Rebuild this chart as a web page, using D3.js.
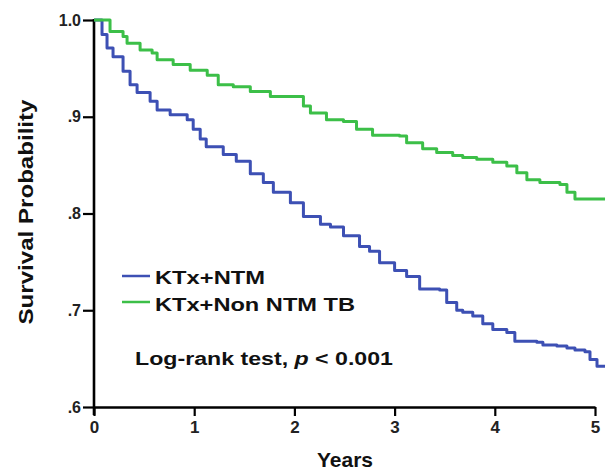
<!DOCTYPE html>
<html>
<head>
<meta charset="utf-8">
<script src="https://cdn.jsdelivr.net/npm/d3@7"></script>
<style>
  body { margin: 0; background: #fff; }
  text { font-family: "Liberation Sans", Arial, sans-serif; }
</style>
</head>
<body>
<svg id="chart"></svg>
<script>
// Kaplan-Meier steps (years, survival)
const ntmYears = [0, 0.08, 0.13, 0.19, 0.29, 0.36, 0.43, 0.56, 0.63, 0.76, 0.93, 0.99, 1.06, 1.12, 1.29, 1.42, 1.56, 1.69, 1.79, 1.96, 2.09, 2.26, 2.36, 2.49, 2.65, 2.75, 2.85, 3.0, 3.12, 3.25, 3.45, 3.52, 3.62, 3.68, 3.78, 3.88, 3.98, 4.12, 4.2, 4.42, 4.48, 4.62, 4.72, 4.8, 4.9, 4.95, 5.02, 5.1];
const ntmSurv = [1.0, 0.985, 0.971, 0.962, 0.947, 0.933, 0.925, 0.916, 0.907, 0.902, 0.897, 0.887, 0.877, 0.869, 0.861, 0.854, 0.841, 0.832, 0.822, 0.811, 0.797, 0.789, 0.786, 0.777, 0.766, 0.761, 0.749, 0.741, 0.735, 0.722, 0.721, 0.708, 0.7, 0.698, 0.694, 0.686, 0.68, 0.677, 0.668, 0.667, 0.664, 0.663, 0.661, 0.659, 0.657, 0.649, 0.642, 0.642];

const tbYears = [0, 0.16, 0.29, 0.33, 0.46, 0.58, 0.63, 0.79, 0.96, 1.13, 1.24, 1.39, 1.56, 1.76, 1.96, 2.09, 2.16, 2.32, 2.49, 2.62, 2.78, 3.05, 3.12, 3.28, 3.42, 3.58, 3.68, 3.82, 3.98, 4.12, 4.22, 4.32, 4.45, 4.65, 4.72, 4.8, 5.1];
const tbSurv = [1.0, 0.988, 0.983, 0.976, 0.969, 0.966, 0.959, 0.954, 0.948, 0.943, 0.933, 0.931, 0.926, 0.921, 0.921, 0.911, 0.904, 0.897, 0.895, 0.887, 0.881, 0.88, 0.873, 0.867, 0.863, 0.86, 0.858, 0.856, 0.853, 0.849, 0.842, 0.835, 0.832, 0.83, 0.822, 0.815, 0.815];

const xTicks = [0, 1, 2, 3, 4, 5];
const yTicks = [0.6, 0.7, 0.8, 0.9, 1.0];
const seriesNames = ["KTx+NTM", "KTx+Non NTM TB"];
const seriesColors = ["#3d50b4", "#3cbf48"];

const width = 612;
const height = 473;
const svg = d3.select("#chart").attr("width", width).attr("height", height);

const xScale = d3.scaleLinear().domain([0, 5]).range([94, 595]);
const yScale = d3.scaleLinear().domain([0.6, 1.0]).range([407, 20]);

// Axes
const yAxis = svg.append("g")
  .attr("transform", "translate(94,0)")
  .call(d3.axisLeft(yScale).tickValues(yTicks).tickSize(11).tickSizeOuter(0)
    .tickFormat((d) => (d === 1 ? "1.0" : d3.format(".1f")(d).replace(/^0/, ""))));
yAxis.select(".domain").attr("stroke-width", 2.6).attr("d", "M0,19V415");
yAxis.selectAll(".tick line").attr("stroke-width", 2.2);
yAxis.selectAll(".tick text")
  .attr("x", -13)
  .style("font-size", "16px")
  .style("font-weight", "bold")
  .style("font-family", "Liberation Sans, Arial, sans-serif")
  .attr("fill", "#222");

const xAxis = svg.append("g")
  .attr("transform", "translate(0,407)")
  .call(d3.axisBottom(xScale).tickValues(xTicks).tickSize(9).tickSizeOuter(0).tickFormat(d3.format("d")));
xAxis.select(".domain").attr("stroke-width", 2.6);
xAxis.selectAll(".tick line").attr("stroke-width", 2.2);
xAxis.selectAll(".tick text")
  .attr("y", 14)
  .style("font-size", "17px")
  .style("font-weight", "bold")
  .style("font-family", "Liberation Sans, Arial, sans-serif")
  .attr("fill", "#222");

// Axis titles
svg.append("text")
  .attr("text-anchor", "middle")
  .attr("x", 345)
  .attr("y", 467)
  .style("font-size", "21px")
  .style("font-weight", "bold")
  .attr("fill", "#111")
  .text("Years");

svg.append("text")
  .attr("text-anchor", "middle")
  .attr("transform", "rotate(-90)")
  .attr("x", -212)
  .attr("y", 33)
  .attr("textLength", 225)
  .attr("lengthAdjust", "spacingAndGlyphs")
  .style("font-size", "21px")
  .style("font-weight", "bold")
  .attr("fill", "#111")
  .text("Survival Probability");

// Survival curves
const line = d3.line()
  .x((d) => xScale(d[0]))
  .y((d) => yScale(d[1]))
  .curve(d3.curveStepAfter);

const series = [
  d3.zip(ntmYears, ntmSurv),
  d3.zip(tbYears, tbSurv)
];

svg.selectAll(".km")
  .data(series)
  .enter()
  .append("path")
  .attr("class", "km")
  .attr("fill", "none")
  .attr("stroke", (d, i) => seriesColors[i])
  .attr("stroke-width", 3)
  .attr("stroke-linejoin", "round")
  .attr("d", line);

// Legend
const legend = svg.append("g");
const legendRows = [{ y: 276, base: 284, len: 110 }, { y: 302, base: 311, len: 200 }];
legendRows.forEach((r, i) => {
  legend.append("line")
    .attr("x1", 122).attr("x2", 150)
    .attr("y1", r.y).attr("y2", r.y)
    .attr("stroke", seriesColors[i])
    .attr("stroke-width", 2.5);
  legend.append("text")
    .attr("x", 155)
    .attr("y", r.base)
    .attr("textLength", r.len)
    .attr("lengthAdjust", "spacingAndGlyphs")
    .style("font-size", "18px")
    .style("font-weight", "bold")
    .attr("fill", "#111")
    .text(seriesNames[i]);
});

// Test annotation
const note = svg.append("text")
  .attr("x", 135)
  .attr("y", 365)
  .attr("textLength", 258)
  .attr("lengthAdjust", "spacingAndGlyphs")
  .style("font-size", "18px")
  .style("font-weight", "bold")
  .attr("fill", "#111");
note.append("tspan").text("Log-rank test,  ");
note.append("tspan").style("font-style", "italic").text("p");
note.append("tspan").text(" < 0.001");
</script>
</body>
</html>
